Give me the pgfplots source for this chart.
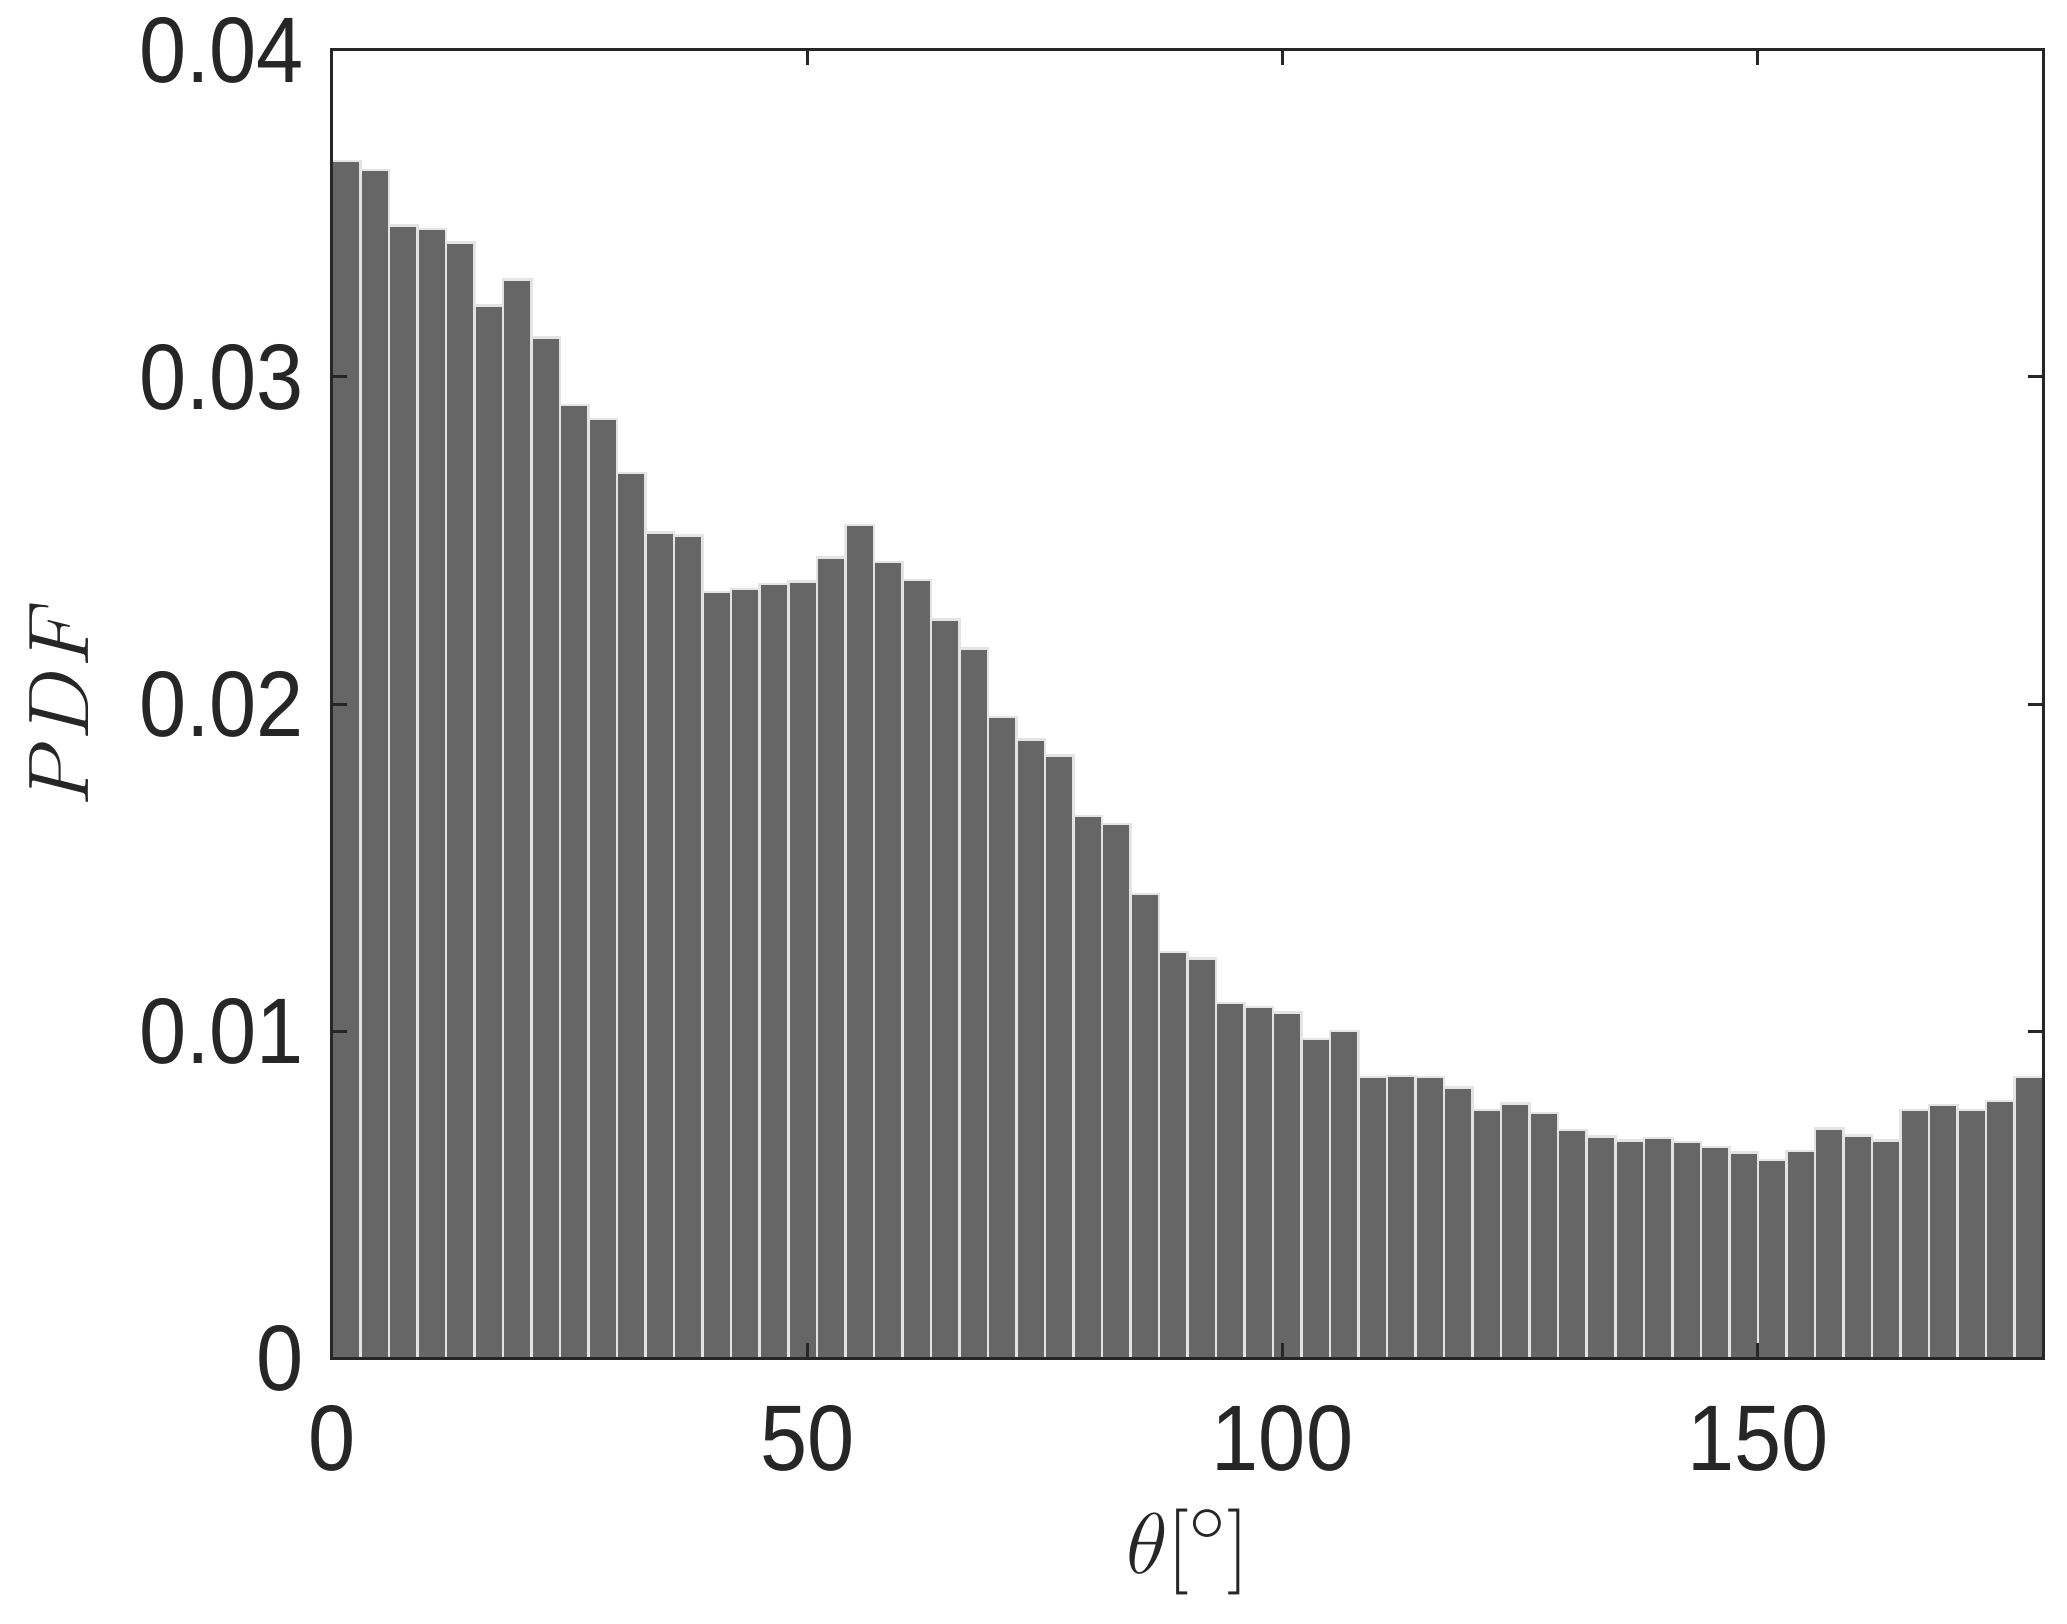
\documentclass[border=0pt]{standalone}
\usepackage{fontspec}
\setmainfont{Liberation Sans}
\usepackage{pgfplots}
\pgfplotsset{compat=1.18}
\definecolor{barfill}{RGB}{102,102,102}
\definecolor{baredge}{RGB}{228,228,228}
\begin{document}
\begin{tikzpicture}
\begin{axis}[
  scale only axis,
  width=342.2bp, height=261.6bp,
  xmin=0, xmax=180, ymin=0, ymax=0.04,
  xtick={0,50,100,150},
  ytick={0,0.01,0.02,0.03,0.04},
  yticklabels={0,0.01,0.02,0.03,0.04},
  /pgf/number format/assume math mode=true,
  tick label style={font=\fontsize{17}{20}\selectfont, text=black!85, yscale=1.1, inner sep=0pt},
  xticklabel style={yshift=-8.5bp},
  yticklabel style={xshift=-5.4bp},
  major tick length=3bp,
  tick align=inside,
  axis line style={line width=0.6bp, color=black!85},
  every tick/.style={line width=0.6bp, color=black!85},
  axis on top,
  xlabel={$\theta[^\circ]$},
  ylabel={$PDF$},
  label style={font=\fontsize{19}{22}\selectfont, text=black!85, inner sep=0pt},
  xlabel style={at={(axis description cs:0.5,-0.148)}, anchor=center},
  ylabel style={at={(axis description cs:-0.1596,0.5)}, anchor=center},
  scaled y ticks=false,
]
\addplot[ybar interval, fill=barfill, draw=baredge, line width=0.5bp] coordinates {
(0,0.0366) (3,0.03633) (6,0.03464) (9,0.03452) (12,0.03411) (15,0.03218)
(18,0.03298) (21,0.03121) (24,0.02915) (27,0.02871) (30,0.02706) (33,0.02524)
(36,0.02516) (39,0.02343) (42,0.02351) (45,0.02367) (48,0.02375) (51,0.02448)
(54,0.02548) (57,0.02435) (60,0.02379) (63,0.02258) (66,0.02169) (69,0.0196)
(72,0.01891) (75,0.01843) (78,0.01657) (81,0.01633) (84,0.01419) (87,0.01242)
(90,0.01222) (93,0.01085) (96,0.01073) (99,0.01056) (102,0.00976) (105,0.01)
(108,0.00859) (111,0.00863) (114,0.00859) (117,0.00827) (120,0.00758) (123,0.00778)
(126,0.0075) (129,0.00698) (132,0.00677) (135,0.00665) (138,0.00673) (141,0.00661)
(144,0.00645) (147,0.00629) (150,0.00605) (153,0.00633) (156,0.00702) (159,0.00681)
(162,0.00665) (165,0.00758) (168,0.00774) (171,0.00758) (174,0.00786) (177,0.00859)
(180,0.00859)
};
\end{axis}
\path (current axis.south west) ++(-66.4bp,-53.2bp) (current axis.north east) ++(4.8bp,10bp);
\end{tikzpicture}
\end{document}
